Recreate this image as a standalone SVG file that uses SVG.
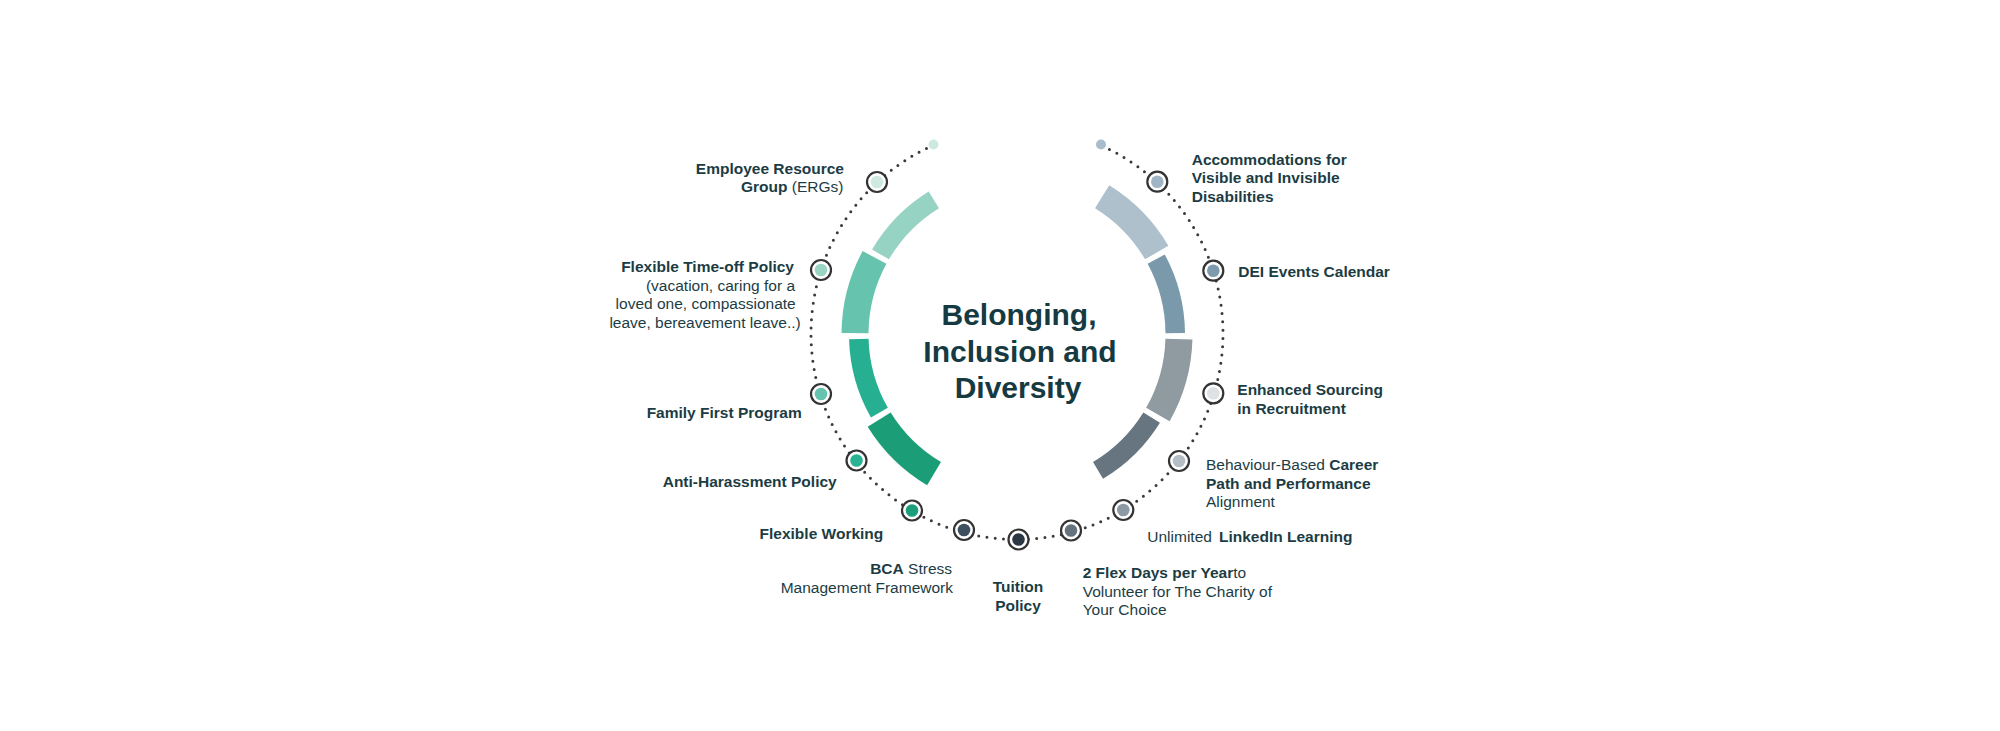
<svg xmlns="http://www.w3.org/2000/svg" width="2000" height="731" viewBox="0 0 2000 731">
<style>
text{font-family:"Liberation Sans",Arial,sans-serif;font-size:15.5px;fill:#1c3c44}
.b{font-weight:bold}
.title{font-size:30px;font-weight:bold;fill:#163a42}
.ring{fill:#fff;stroke:#333;stroke-width:2.2}
.dots{fill:none;stroke:#3a3a3a;stroke-width:3;stroke-linecap:round;stroke-dasharray:0 8.3}
</style>
<rect width="2000" height="731" fill="#fff"/>
<g id="segments">
<path fill="#97d3c3" d="M928.72,191.57 A168,168 0 0 0 872.10,249.49 L888.92,259.36 A148.5,148.5 0 0 1 938.96,208.16 Z"/>
<path fill="#66c3ae" d="M862.63,251.03 A175.5,175.5 0 0 0 841.51,332.97 L868.51,333.20 A148.5,148.5 0 0 1 886.38,263.87 Z"/>
<path fill="#26b091" d="M849.07,339.19 A168,168 0 0 0 870.92,417.48 L887.88,407.84 A148.5,148.5 0 0 1 868.56,338.65 Z"/>
<path fill="#1b9e78" d="M867.68,426.73 A175.5,175.5 0 0 0 927.14,485.24 L940.97,462.05 A148.5,148.5 0 0 1 890.66,412.54 Z"/>
<path fill="#adc0cc" d="M1109.23,185.18 A175.5,175.5 0 0 1 1168.37,245.70 L1145.08,259.36 A148.5,148.5 0 0 0 1095.04,208.16 Z"/>
<path fill="#7a9aab" d="M1164.77,254.60 A168,168 0 0 1 1184.99,333.03 L1165.49,333.20 A148.5,148.5 0 0 0 1147.62,263.87 Z"/>
<path fill="#8f9aa1" d="M1192.43,339.40 A175.5,175.5 0 0 1 1169.60,421.18 L1146.12,407.84 A148.5,148.5 0 0 0 1165.44,338.65 Z"/>
<path fill="#66757f" d="M1159.93,422.78 A168,168 0 0 1 1103.02,478.80 L1093.03,462.05 A148.5,148.5 0 0 0 1143.34,412.54 Z"/>
</g>
<g id="title">
<text class="title" x="1019" y="325" text-anchor="middle">Belonging,</text>
<text class="title" x="1020" y="361.5" text-anchor="middle">Inclusion and</text>
<text class="title" x="1018" y="398" text-anchor="middle">Diversity</text>
</g>
<g id="connectors">
<path class="dots" d="M933.9,145 A206,206 0 1 0 1100.1,145"/>
<circle cx="933.5" cy="144.5" r="5" fill="#cde9e0"/>
<circle cx="1101" cy="144.5" r="5" fill="#a9bccb"/>
</g>
<g id="node-erg">
<circle class="ring" cx="877" cy="182" r="10"/><circle cx="877" cy="182" r="6.3" fill="#cfe9e1"/>
<text x="844" y="174" text-anchor="end" class="b">Employee Resource</text>
<text x="843.5" y="192" text-anchor="end"><tspan class="b">Group</tspan> (ERGs)</text>
</g>
<g id="node-flex-timeoff">
<circle class="ring" cx="821" cy="270" r="10"/><circle cx="821" cy="270" r="6.3" fill="#9ad4c3"/>
<text x="794" y="272.3" text-anchor="end" class="b">Flexible Time-off Policy</text>
<text x="795" y="290.7" text-anchor="end">(vacation, caring for a</text>
<text x="795.7" y="309.3" text-anchor="end">loved one, compassionate</text>
<text x="800.7" y="327.7" text-anchor="end">leave, bereavement leave..)</text>
</g>
<g id="node-family">
<circle class="ring" cx="821" cy="394" r="10"/><circle cx="821" cy="394" r="6.3" fill="#66c4ae"/>
<text x="801.7" y="418.3" text-anchor="end" class="b">Family First Program</text>
</g>
<g id="node-antiharassment">
<circle class="ring" cx="856.5" cy="460.5" r="10"/><circle cx="856.5" cy="460.5" r="6.3" fill="#2ab393"/>
<text x="836.7" y="487.3" text-anchor="end" class="b">Anti-Harassment Policy</text>
</g>
<g id="node-flexworking">
<circle class="ring" cx="912" cy="510.5" r="10"/><circle cx="912" cy="510.5" r="6.3" fill="#1a9f7a"/>
<text x="883.3" y="539.3" text-anchor="end" class="b">Flexible Working</text>
</g>
<g id="node-bca">
<circle class="ring" cx="964" cy="530" r="10"/><circle cx="964" cy="530" r="6.3" fill="#3e5060"/>
<text x="952" y="574.3" text-anchor="end"><tspan class="b">BCA</tspan> Stress</text>
<text x="953" y="592.7" text-anchor="end">Management Framework</text>
</g>
<g id="node-tuition">
<circle class="ring" cx="1018.5" cy="539.5" r="10"/><circle cx="1018.5" cy="539.5" r="6.3" fill="#2b3844"/>
<text x="1018" y="592" text-anchor="middle" class="b">Tuition</text>
<text x="1018" y="611" text-anchor="middle" class="b">Policy</text>
</g>
<g id="node-flexdays">
<circle class="ring" cx="1071" cy="530.5" r="10"/><circle cx="1071" cy="530.5" r="6.3" fill="#65737f"/>
<text x="1082.7" y="578.3"><tspan class="b">2 Flex Days per Year</tspan>to</text>
<text x="1082.7" y="596.5">Volunteer for The Charity of</text>
<text x="1082.7" y="615">Your Choice</text>
</g>
<g id="node-linkedin">
<circle class="ring" cx="1123.3" cy="510" r="10"/><circle cx="1123.3" cy="510" r="6.3" fill="#8e9aa3"/>
<text x="1147.3" y="542.3">Unlimited <tspan class="b" x="1219">LinkedIn Learning</tspan></text>
</g>
<g id="node-behaviour">
<circle class="ring" cx="1179" cy="461" r="10"/><circle cx="1179" cy="461" r="6.3" fill="#b6bec5"/>
<text x="1206" y="470">Behaviour-Based <tspan class="b">Career</tspan></text>
<text x="1206" y="488.5" class="b">Path and Performance</text>
<text x="1206" y="507">Alignment</text>
</g>
<g id="node-sourcing">
<circle class="ring" cx="1213.3" cy="393.3" r="10"/><circle cx="1213.3" cy="393.3" r="6.3" fill="#dfe2e5"/>
<text x="1237.3" y="395" class="b">Enhanced Sourcing</text>
<text x="1237.3" y="413.5" class="b">in Recruitment</text>
</g>
<g id="node-dei">
<circle class="ring" cx="1213.3" cy="270.7" r="10"/><circle cx="1213.3" cy="270.7" r="6.3" fill="#7d9bac"/>
<text x="1238.3" y="277.3" class="b">DEI Events Calendar</text>
</g>
<g id="node-accommodations">
<circle class="ring" cx="1157.3" cy="181.7" r="10"/><circle cx="1157.3" cy="181.7" r="6.3" fill="#9fb4c4"/>
<text x="1191.7" y="165" class="b">Accommodations for</text>
<text x="1191.7" y="183" class="b">Visible and Invisible</text>
<text x="1191.7" y="201.7" class="b">Disabilities</text>
</g>
</svg>
